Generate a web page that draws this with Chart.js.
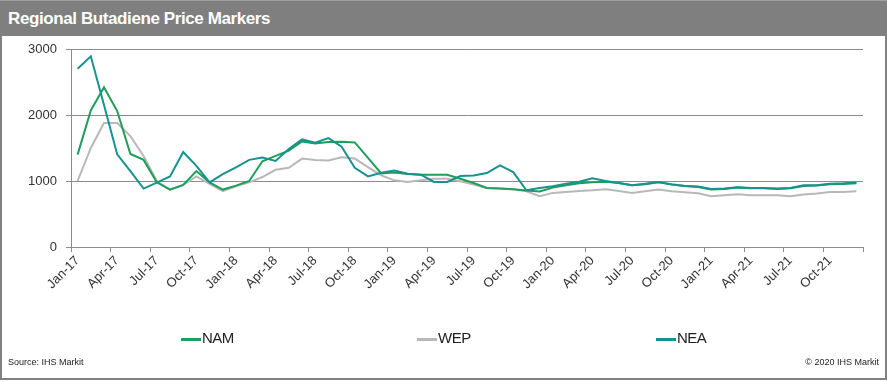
<!DOCTYPE html>
<html>
<head>
<meta charset="utf-8">
<title>Regional Butadiene Price Markers</title>
<script src="https://cdn.jsdelivr.net/npm/chart.js@4.4.0/dist/chart.umd.min.js"></script>
<style>
  html, body { margin: 0; padding: 0; background: #fff; }
  body { width: 888px; height: 382px; position: relative; overflow: hidden; font-family: 'Liberation Sans', Arial, sans-serif; }
  #frame { position: absolute; left: 0; top: 0; width: 887px; height: 380px; box-sizing: border-box; border: 2px solid #808080; }
  #titlebar { position: absolute; left: 0; top: 0; width: 887px; height: 36px; background: #7f7f7f; border-top: 1px solid #a0a0a0; box-sizing: border-box; }
  #titlebar span { position: absolute; left: 8px; top: 8px; color: #fff; font-weight: bold; font-size: 17px; letter-spacing: -0.4px; }
  #chart { position: absolute; left: 0; top: 0; }
  .legend-item { position: absolute; top: 329px; height: 18px; font-size: 15px; color: #222; white-space: nowrap; }
  .legend-item i { position: absolute; left: 0; top: 9px; width: 20px; height: 3px; }
  .legend-item b { position: absolute; left: 21px; top: 0; font-weight: normal; letter-spacing: -0.5px; }
  .foot { position: absolute; top: 357px; font-size: 9px; color: #222; }
</style>
</head>
<body>
<div id="frame"></div>
<div id="titlebar"><span>Regional Butadiene Price Markers</span></div>
<canvas id="chart" width="888" height="382"></canvas>
<div id="legend"></div>
<div class="foot" style="left:8px">Source: IHS Markit</div>
<div class="foot" style="right:9px">© 2020 IHS Markit</div>
<script>
// Monthly price markers, Jan-17 .. Dec-21
const months = [
  'Jan-17', 'Feb-17', 'Mar-17', 'Apr-17', 'May-17', 'Jun-17', 'Jul-17', 'Aug-17', 'Sep-17', 'Oct-17', 'Nov-17', 'Dec-17',
  'Jan-18', 'Feb-18', 'Mar-18', 'Apr-18', 'May-18', 'Jun-18', 'Jul-18', 'Aug-18', 'Sep-18', 'Oct-18', 'Nov-18', 'Dec-18',
  'Jan-19', 'Feb-19', 'Mar-19', 'Apr-19', 'May-19', 'Jun-19', 'Jul-19', 'Aug-19', 'Sep-19', 'Oct-19', 'Nov-19', 'Dec-19',
  'Jan-20', 'Feb-20', 'Mar-20', 'Apr-20', 'May-20', 'Jun-20', 'Jul-20', 'Aug-20', 'Sep-20', 'Oct-20', 'Nov-20', 'Dec-20',
  'Jan-21', 'Feb-21', 'Mar-21', 'Apr-21', 'May-21', 'Jun-21', 'Jul-21', 'Aug-21', 'Sep-21', 'Oct-21', 'Nov-21', 'Dec-21'
];

const nam = [
  1400, 2070, 2420, 2060, 1410, 1320, 980, 870, 940, 1150, 980, 870,
  930, 1000, 1300, 1380, 1460, 1600, 1570, 1590, 1595, 1585, 1350, 1115,
  1130, 1105, 1095, 1095, 1095, 1035, 970, 895, 885, 875, 855, 840,
  900, 935, 965, 980, 990, 970, 935, 950, 980, 950, 925, 910,
  870, 880, 900, 890, 890, 880, 890, 925, 930, 950, 955, 965
];

const wep = [
  1000, 1500, 1880, 1880, 1680, 1380, 1000, 870, 940, 1070, 955, 845,
  920, 980, 1060, 1170, 1200, 1340, 1320, 1310, 1360, 1340, 1210, 1085,
  1010, 985, 1010, 1035, 1035, 995, 945, 895, 885, 875, 845, 770,
  820, 835, 850, 860, 875, 850, 820, 845, 870, 845, 830, 815,
  770, 785, 800, 785, 785, 785, 770, 795, 810, 835, 835, 845
];

const nea = [
  2700, 2890, 2150, 1405, 1150, 885, 975, 1070, 1440, 1230, 980, 1105,
  1205, 1320, 1355, 1305, 1485, 1630, 1580, 1650, 1520, 1200, 1070, 1125,
  1160, 1110, 1095, 985, 985, 1075, 1085, 1120, 1236, 1135, 860, 895,
  920, 960, 990, 1040, 1000, 970, 935, 960, 985, 945, 925, 915,
  880, 885, 905, 895, 895, 885, 895, 935, 935, 960, 965, 975
];

const yTicks = [0, 1000, 2000, 3000];

const axisGray = '#8c8c8c';
const tickFont = { family: "'Liberation Sans', Arial, sans-serif", size: 13 };

const series = [
  { label: 'NAM', data: nam, color: '#1e9e58' },
  { label: 'WEP', data: wep, color: '#b8b8b8' },
  { label: 'NEA', data: nea, color: '#17938f' }
];

// draw order: WEP behind, then NAM, NEA on top
const drawOrder = { NAM: 1, WEP: 2, NEA: 0 };

new Chart(document.getElementById('chart'), {
  type: 'line',
  data: {
    labels: months,
    datasets: series.map(s => ({
      label: s.label,
      data: s.data,
      borderColor: s.color,
      backgroundColor: s.color,
      borderWidth: 2,
      pointRadius: 0,
      tension: 0,
      fill: false,
      order: drawOrder[s.label]
    }))
  },
  options: {
    responsive: false,
    animation: false,
    devicePixelRatio: 1,
    layout: { padding: { top: 49, right: 25, bottom: 0, left: 0 } },
    plugins: {
      legend: { display: false },
      tooltip: { enabled: false }
    },
    scales: {
      x: {
        type: 'category',
        offset: true,
        afterFit: (scale) => { scale.height = 135; },
        grid: {
          offset: true,
          drawOnChartArea: false,
          drawTicks: true,
          tickLength: 5,
          color: (ctx) => (ctx.index === undefined || ctx.index % 3 === 0) ? axisGray : 'rgba(0,0,0,0)'
        },
        border: { color: axisGray, width: 1 },
        ticks: {
          autoSkip: false,
          maxRotation: 45,
          minRotation: 45,
          padding: 1,
          color: '#333',
          font: tickFont,
          callback: function (value, index) {
            return index % 3 === 0 ? this.getLabelForValue(value) : '';
          }
        }
      },
      y: {
        min: yTicks[0],
        max: yTicks[yTicks.length - 1],
        afterFit: (scale) => { scale.width = 71; },
        afterBuildTicks: (scale) => { scale.ticks = yTicks.map(v => ({ value: v })); },
        grid: { color: axisGray, tickLength: 5 },
        border: { color: axisGray, width: 1 },
        ticks: {
          padding: 9,
          color: '#333',
          font: tickFont,
          callback: (value) => String(value)
        }
      }
    }
  }
});

// legend, built from the series list
const legendX = [181, 417, 656];
const legend = document.getElementById('legend');
series.forEach((s, i) => {
  const item = document.createElement('div');
  item.className = 'legend-item';
  item.style.left = legendX[i] + 'px';
  item.innerHTML = '<i style="background:' + s.color + '"></i><b>' + s.label + '</b>';
  legend.appendChild(item);
});
</script>
</body>
</html>
